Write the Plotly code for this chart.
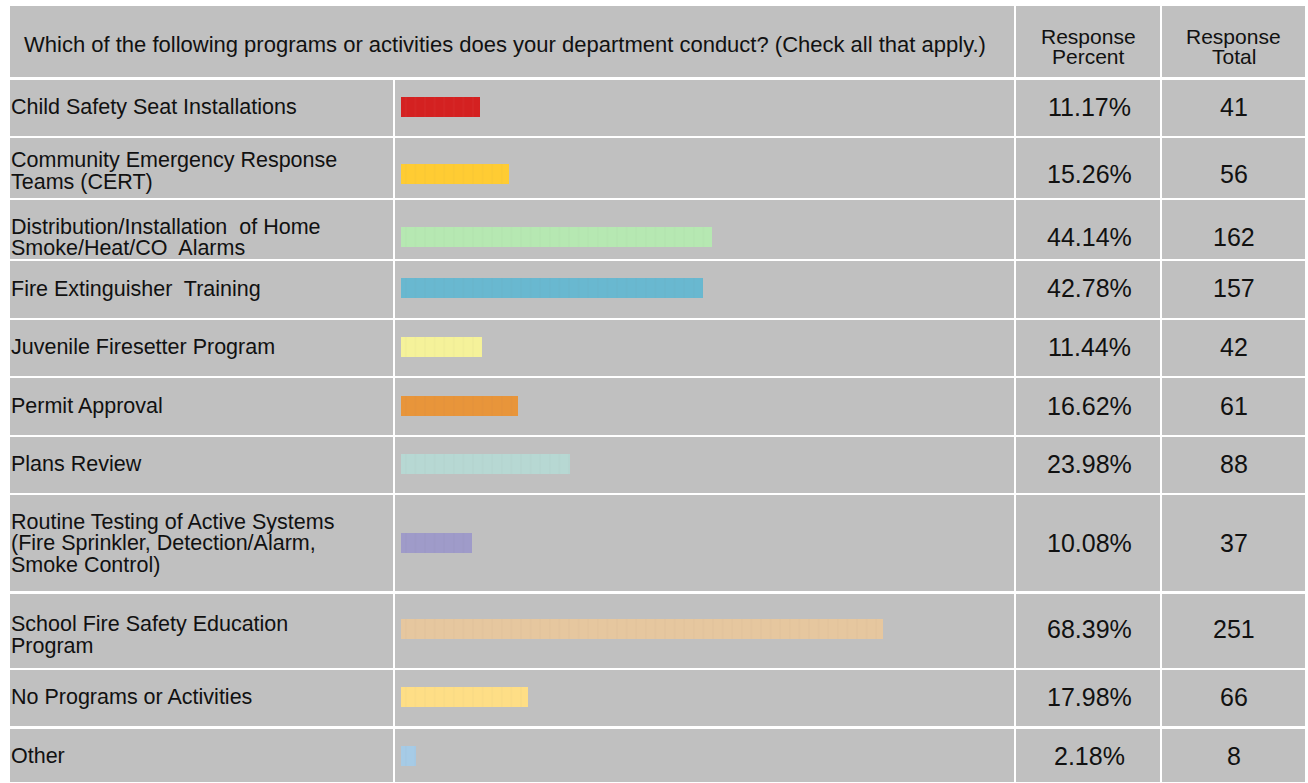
import plotly.graph_objects as go

# ---------------- data ----------------
question = "Which of the following programs or activities does your department conduct? (Check all that apply.)"
col_headers = [["Response", "Percent"], ["Response", "Total"]]
categories = [
    ["Child Safety Seat Installations"],
    ["Community Emergency Response", "Teams (CERT)"],
    ["Distribution/Installation  of Home", "Smoke/Heat/CO  Alarms"],
    ["Fire Extinguisher  Training"],
    ["Juvenile Firesetter Program"],
    ["Permit Approval"],
    ["Plans Review"],
    ["Routine Testing of Active Systems", "(Fire Sprinkler, Detection/Alarm,", "Smoke Control)"],
    ["School Fire Safety Education", "Program"],
    ["No Programs or Activities"],
    ["Other"],
]
percent = [11.17, 15.26, 44.14, 42.78, 11.44, 16.62, 23.98, 10.08, 68.39, 17.98, 2.18]
total = [41, 56, 162, 157, 42, 61, 88, 37, 251, 66, 8]
bar_colors = ["#d42121", "#ffcc33", "#b6e8b2", "#69b8d0", "#f5f29a", "#e8953a",
              "#b7d8d3", "#9f9bc9", "#e6c79f", "#fede86", "#a6cbe6"]

# ---------------- layout constants (pixels) ----------------
W, H = 1308, 783
col_edges = [(10, 393), (395, 1014), (1016, 1160), (1162, 1305)]
header_edge = (6, 77)
row_edges = [(80, 136), (138, 198), (200, 259), (261, 318), (320, 376), (378, 435),
             (437, 493), (495, 591), (594, 668), (670, 726), (729, 782)]
row_mid = [107, 174, 237, 288, 347, 406, 464, 543, 629, 697, 756]
label_lines_y = [[107], [160, 182], [227, 248], [289], [347], [406], [464],
                 [522, 543, 565], [624, 646], [697], [756]]
bar_x0 = 401
px_per_pct = 7.05
bar_thickness = 20
cell_gray = "#c0c0c0"
text_color = "#111111"
font_family = "Liberation Sans, Arial, sans-serif"

fig = go.Figure()

fig.add_trace(go.Bar(
    x=percent, y=row_mid, orientation="h", width=bar_thickness,
    xaxis="x2", yaxis="y",
    marker=dict(color=bar_colors, line=dict(width=0),
                pattern=dict(shape="|", size=9.6, solidity=0.08,
                             fgcolor="#000000", fgopacity=0.06)),
    hoverinfo="skip", showlegend=False,
))

shapes = []
def cell(x0, x1, y0, y1):
    shapes.append(dict(type="rect", xref="x", yref="y", x0=x0, x1=x1, y0=y0, y1=y1,
                       fillcolor=cell_gray, line=dict(width=0), layer="below"))

# header row: first two columns merged
cell(col_edges[0][0], col_edges[1][1], *header_edge)
cell(col_edges[2][0], col_edges[2][1], *header_edge)
cell(col_edges[3][0], col_edges[3][1], *header_edge)
for (y0, y1) in row_edges:
    for (x0, x1) in col_edges:
        cell(x0, x1, y0, y1)

ann = []
def txt(x, y, s, size, anchor="center"):
    ann.append(dict(xref="x", yref="y", x=x, y=y, text=s, showarrow=False,
                    xanchor=anchor, yanchor="middle", borderpad=0,
                    font=dict(family=font_family, size=size, color=text_color)))

txt(505, 44, question, 22)
for ci, hdr in zip([2, 3], col_headers):
    cx = (col_edges[ci][0] + col_edges[ci][1]) / 2
    txt(cx, 36, hdr[0], 21)
    txt(cx, 56, hdr[1], 21)

for i, lines in enumerate(categories):
    for s, yy in zip(lines, label_lines_y[i]):
        txt(10, yy, s, 21.5, anchor="left")
    txt((col_edges[2][0] + col_edges[2][1]) / 2 + 1, row_mid[i], f"{percent[i]:.2f}%", 25)
    txt((col_edges[3][0] + col_edges[3][1]) / 2, row_mid[i], str(total[i]), 25)

fig.update_layout(
    width=W, height=H, margin=dict(l=0, r=0, t=0, b=0),
    paper_bgcolor="white", plot_bgcolor="rgba(0,0,0,0)",
    xaxis=dict(range=[0, W], domain=[0, 1], visible=False, fixedrange=True),
    xaxis2=dict(range=[0, (col_edges[1][1] - bar_x0) / px_per_pct],
                domain=[bar_x0 / W, col_edges[1][1] / W], anchor="y",
                visible=False, fixedrange=True),
    yaxis=dict(range=[H, 0], domain=[0, 1], visible=False, fixedrange=True),
    shapes=shapes, annotations=ann, bargap=0,
)

fig.write_html("out.html", config={"displayModeBar": False},
               post_script="document.body.style.margin='0';document.body.style.overflow='hidden';")
